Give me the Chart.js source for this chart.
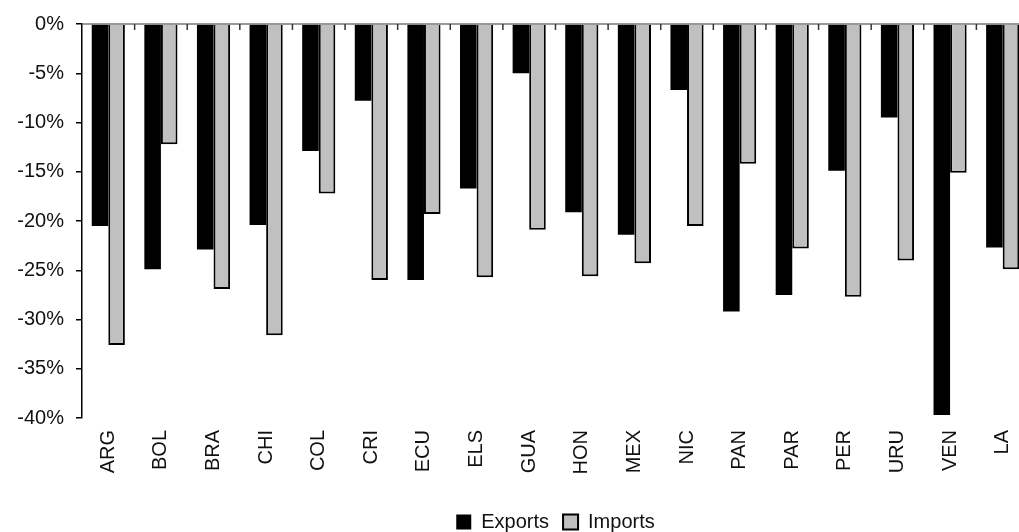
<!DOCTYPE html>
<html lang="en">
<head>
    <meta charset="UTF-8">
    <title>Exports and Imports</title>
    <style>
        html, body {
            margin: 0;
            padding: 0;
            background-color: #ffffff;
            overflow: hidden;
        }
        .chart-box {
            position: absolute;
            left: 0;
            top: 0;
            width: 1031px;
            height: 532px;
        }
    </style>
</head>
<body>
    <div class="chart-box">
        <canvas id="myChart"></canvas>
    </div>

    <script src="https://cdn.jsdelivr.net/npm/chart.js"></script>
    <script>
        // Data (percent change)
        const countries = ['ARG', 'BOL', 'BRA', 'CHI', 'COL', 'CRI', 'ECU', 'ELS', 'GUA',
                           'HON', 'MEX', 'NIC', 'PAN', 'PAR', 'PER', 'URU', 'VEN', 'LA'];
        const exportsChange = [-20.5, -24.9, -22.9, -20.4, -12.9, -7.8, -26.0, -16.7, -5.0,
                               -19.1, -21.4, -6.7, -29.2, -27.5, -14.9, -9.5, -39.7, -22.7];
        const importsChange = [-32.6, -12.2, -26.9, -31.6, -17.2, -26.0, -19.3, -25.7, -20.9,
                               -25.6, -24.3, -20.5, -14.2, -22.8, -27.7, -24.0, -15.1, -24.9];
        const yTicks = [0, -5, -10, -15, -20, -25, -30, -35, -40];

        const textColor = '#111111';
        const fontFamily = "'Liberation Sans', Arial, sans-serif";

        // zero line along the top and small tick marks between categories
        const topAxisPlugin = {
            id: 'topAxis',
            afterDatasetsDraw(chart) {
                const ctx = chart.ctx;
                const x = chart.scales.x;
                const y0 = chart.scales.y.getPixelForValue(0);
                ctx.save();
                ctx.strokeStyle = '#777777';
                ctx.lineWidth = 1.5;
                ctx.beginPath();
                ctx.moveTo(chart.chartArea.left, y0);
                ctx.lineTo(chart.chartArea.right, y0);
                ctx.stroke();
                ctx.strokeStyle = '#333333';
                const step = (x.right - x.left) / countries.length;
                for (let i = 1; i < countries.length; i++) {
                    const px = x.left + step * i;
                    ctx.beginPath();
                    ctx.moveTo(px, y0);
                    ctx.lineTo(px, y0 + 6);
                    ctx.stroke();
                }
                ctx.restore();
            }
        };

        const ctx = document.getElementById('myChart').getContext('2d');
        const chart = new Chart(ctx, {
            type: 'bar',
            data: {
                labels: countries,
                datasets: [{
                    label: 'Exports',
                    data: exportsChange,
                    backgroundColor: '#000000',
                    borderColor: '#000000',
                    borderWidth: 0
                }, {
                    label: 'Imports',
                    data: importsChange,
                    backgroundColor: '#c0c0c0',
                    borderColor: '#000000',
                    borderWidth: 2
                }]
            },
            options: {
                responsive: true,
                maintainAspectRatio: false,
                animation: false,
                layout: {
                    padding: { top: 9, right: 2, left: 0, bottom: -10 }
                },
                datasets: {
                    bar: {
                        categoryPercentage: 0.63,
                        barPercentage: 1.0
                    }
                },
                scales: {
                    x: {
                        afterFit(scale) {
                            scale.height = 80;
                        },
                        grid: { display: false },
                        border: { display: false },
                        ticks: {
                            color: textColor,
                            font: { family: fontFamily, size: 20 },
                            minRotation: 90,
                            maxRotation: 90,
                            autoSkip: false,
                            padding: 4
                        }
                    },
                    y: {
                        min: -40,
                        max: 0,
                        afterFit(scale) {
                            scale.width = 82;
                        },
                        afterBuildTicks(scale) {
                            scale.ticks = yTicks.map(v => ({ value: v }));
                        },
                        border: { display: true, color: '#000000', width: 1.5 },
                        grid: {
                            drawOnChartArea: false,
                            drawTicks: true,
                            tickLength: 6,
                            color: '#000000',
                            lineWidth: 1.5
                        },
                        ticks: {
                            color: textColor,
                            font: { family: fontFamily, size: 20 },
                            padding: 12,
                            callback: v => v + '%'
                        }
                    }
                },
                plugins: {
                    legend: {
                        position: 'bottom',
                        fullSize: false,
                        labels: {
                            color: textColor,
                            font: { family: fontFamily, size: 20 },
                            boxWidth: 15,
                            boxHeight: 15,
                            padding: 14
                        }
                    },
                    tooltip: { enabled: false }
                }
            },
            plugins: [topAxisPlugin]
        });
    </script>
</body>
</html>
